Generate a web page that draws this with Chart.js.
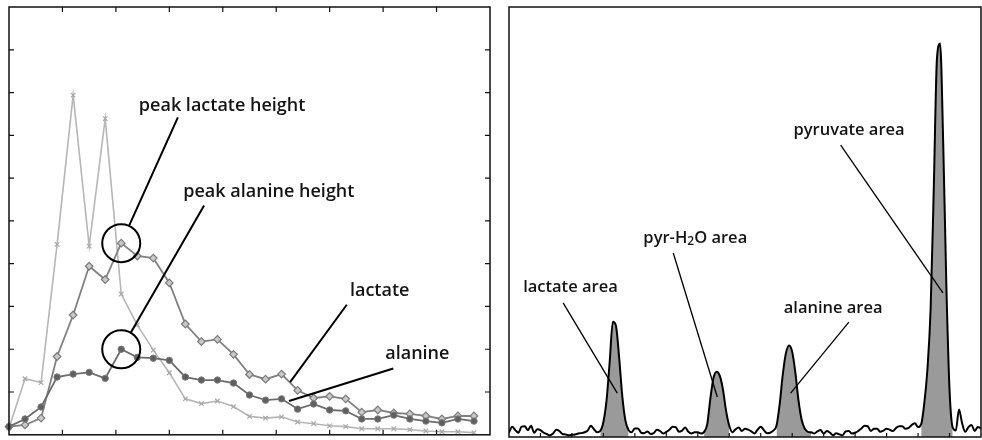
<!DOCTYPE html>
<html lang="en">
<head>
<meta charset="UTF-8">
<title>Pyruvate kinetics and spectrum</title>
<script src="https://cdn.jsdelivr.net/npm/chart.js@4.4.1/dist/chart.umd.min.js"></script>
<style>
  body { margin: 0; background: #fff; }
  canvas { position: absolute; top: 0; }
  #kinetics { left: 0; }
  #spectrum { left: 500px; }
</style>
</head>
<body>
<canvas id="kinetics" width="500" height="440"></canvas>
<canvas id="spectrum" width="482" height="440"></canvas>
<script>
// left panel: signal vs time, one sample every 3 s
const time = [0, 3, 6, 9, 12, 15, 18, 21, 24, 27, 30, 33, 36, 39, 42, 45, 48, 51, 54, 57, 60, 63, 66, 69, 72, 75, 78, 81, 84, 87];
const pyruvate = [0.16, 1.31, 1.22, 4.45, 7.94, 4.41, 7.39, 3.29, 2.57, 1.98, 1.45, 0.84, 0.73, 0.79, 0.66, 0.43, 0.39, 0.42, 0.30, 0.26, 0.21, 0.19, 0.14, 0.14, 0.14, 0.12, 0.09, 0.07, 0.07, 0.05];
const lactate = [0.19, 0.23, 0.39, 1.83, 2.8, 3.94, 3.63, 4.48, 4.18, 4.13, 3.55, 2.59, 2.18, 2.23, 1.88, 1.41, 1.30, 1.42, 1.04, 0.86, 0.90, 0.84, 0.53, 0.58, 0.51, 0.49, 0.44, 0.37, 0.44, 0.44];
const alanine = [0.19, 0.37, 0.65, 1.35, 1.42, 1.46, 1.32, 2.0, 1.81, 1.79, 1.74, 1.35, 1.28, 1.28, 1.21, 0.93, 0.81, 0.84, 0.60, 0.72, 0.58, 0.56, 0.37, 0.37, 0.46, 0.37, 0.32, 0.28, 0.37, 0.32];

// right panel: summed spectrum, 151 spectral points
const spectrum = [
  1.0, 2.4, 1.6, 1.0, 2.4, 2.5, 1.6, 2.6, 1.0, 1.8,
  1.6, 1.0, 0.7, 0.4, 0.8, 1.7, 1.4, 0.7, 0.6, 0.4,
  0.5, 0.6, 0.8, 0.9, 1.1, 1.5, 2.6, 1.8, 1.1, 1.4,
  3.5, 8.5, 17.5, 26.8, 25.8, 18.5, 9.5, 3.8, 1.6, 1.1,
  2.0, 2.0, 1.0, 0.9, 1.3, 0.7, 0.9, 1.7, 1.4, 0.8,
  1.2, 1.7, 2.4, 2.3, 1.2, 1.5, 2.2, 1.2, 0.8, 1.1,
  1.1, 0.8, 1.2, 3.0, 9.0, 13.8, 15.2, 14.2, 11.0, 6.0,
  2.6, 1.1, 1.8, 2.2, 1.4, 1.9, 1.7, 1.3, 0.8, 1.7,
  2.4, 1.6, 0.9, 1.0, 1.5, 2.6, 7.5, 14.5, 19.5, 21.3,
  19.8, 15.0, 8.5, 4.0, 1.9, 1.2, 1.1, 0.8, 1.3, 1.6,
  0.8, 1.4, 1.0, 0.4, 0.9, 0.6, 0.4, 1.3, 1.4, 0.8,
  1.0, 1.4, 2.0, 2.6, 2.5, 1.4, 1.9, 1.9, 1.2, 1.5,
  1.9, 1.7, 1.4, 2.1, 2.5, 2.5, 1.9, 2.1, 2.8, 3.2,
  2.3, 3.0, 8.0, 16.0, 30.0, 58.0, 88.0, 91.5, 68.0, 35.0,
  11.0, 2.2, 1.5, 6.4, 3.2, 1.2, 2.3, 2.8, 1.4, 2.3,
  2.0
];
// integration windows (spectral point indices) shaded grey
const peakWindows = [[29, 38], [62, 70], [85, 96], [131, 141]];

const lacPeak = lactate.indexOf(Math.max(...lactate));
const alaPeak = alanine.indexOf(Math.max(...alanine));

// box + inward tick marks
const framePlugin = {
  id: 'frame',
  afterDatasetsDraw(chart, args, o) {
    const { ctx, chartArea: a } = chart;
    const xs = chart.scales.x, ys = chart.scales.y;
    ctx.save();
    ctx.strokeStyle = '#111';
    ctx.lineWidth = 1.2;
    ctx.beginPath();
    if (o.xStep) {
      for (let v = xs.min + o.xStep; v < xs.max - 1e-6; v += o.xStep) {
        const p = xs.getPixelForValue(v);
        if (o.bottom) { ctx.moveTo(p, a.bottom); ctx.lineTo(p, a.bottom - o.len); }
        if (o.top) { ctx.moveTo(p, a.top); ctx.lineTo(p, a.top + o.len); }
      }
    }
    if (o.yStep) {
      for (let v = ys.min + o.yStep; v < ys.max - 1e-6; v += o.yStep) {
        const p = ys.getPixelForValue(v);
        ctx.moveTo(a.left, p); ctx.lineTo(a.left + o.len, p);
        ctx.moveTo(a.right, p); ctx.lineTo(a.right - o.len, p);
      }
    }
    ctx.stroke();
    ctx.lineWidth = o.width;
    ctx.strokeRect(a.left, a.top, a.width, a.height);
    ctx.restore();
  }
};

// callout lines, circles and labels, placed in data coordinates
const notesPlugin = {
  id: 'notes',
  afterDatasetsDraw(chart, args, o) {
    const { ctx } = chart;
    const xs = chart.scales.x, ys = chart.scales.y;
    const px = p => [xs.getPixelForValue(p[0]), ys.getPixelForValue(p[1])];
    ctx.save();
    ctx.strokeStyle = '#000';
    ctx.lineWidth = o.lineWidth;
    (o.circles || []).forEach(c => {
      const [cx, cy] = px(c.at);
      ctx.beginPath();
      ctx.arc(cx, cy, c.r, 0, Math.PI * 2);
      ctx.stroke();
    });
    (o.lines || []).forEach(l => {
      const [x1, y1] = px(l.from);
      let [x2, y2] = px(l.to);
      if (l.stop) {
        const dx = x1 - x2, dy = y1 - y2, d = Math.hypot(dx, dy);
        x2 += dx / d * l.stop;
        y2 += dy / d * l.stop;
      }
      ctx.beginPath();
      ctx.moveTo(x1, y1);
      ctx.lineTo(x2, y2);
      ctx.stroke();
    });
    ctx.fillStyle = '#141414';
    ctx.textBaseline = 'middle';
    (o.labels || []).forEach(lb => {
      let [x, y] = px(lb.at);
      lb.parts.forEach(part => {
        ctx.font = part.sub ? o.subFont : o.font;
        ctx.fillText(part.t, x, part.sub ? y + 4 : y);
        x += ctx.measureText(part.t).width;
      });
    });
    ctx.restore();
  }
};

const common = {
  responsive: false,
  animation: false,
  events: [],
  plugins: { legend: { display: false }, tooltip: { enabled: false } }
};

new Chart(document.getElementById('kinetics'), {
  type: 'line',
  data: {
    datasets: [
      {
        label: 'alanine',
        data: time.map((t, i) => ({ x: t, y: alanine[i] })),
        borderColor: '#6c6c6c', borderWidth: 1.8,
        pointStyle: 'circle', pointRadius: 3.2,
        pointBackgroundColor: '#606060', pointBorderColor: '#7a7a7a', pointBorderWidth: 1,
        clip: 6
      },
      {
        label: 'lactate',
        data: time.map((t, i) => ({ x: t, y: lactate[i] })),
        borderColor: '#808080', borderWidth: 1.8,
        pointStyle: 'rectRot', pointRadius: 3.8,
        pointBackgroundColor: '#c8c8c8', pointBorderColor: '#7c7c7c', pointBorderWidth: 1.2,
        clip: 6
      },
      {
        label: 'pyruvate',
        data: time.map((t, i) => ({ x: t, y: pyruvate[i] })),
        borderColor: '#b6b6b6', borderWidth: 1.6,
        pointStyle: 'crossRot', pointRadius: 3.2,
        pointBorderColor: '#a8a8a8', pointBorderWidth: 1.2,
        clip: 6
      }
    ]
  },
  options: {
    ...common,
    layout: { padding: { left: 9, top: 7, right: 10, bottom: 2 } },
    scales: {
      x: { type: 'linear', display: false, min: 0, max: 90 },
      y: { display: false, min: 0, max: 10 }
    },
    plugins: {
      ...common.plugins,
      frame: { width: 1.5, len: 5, xStep: 10, yStep: 1, top: true, bottom: true },
      notes: {
        lineWidth: 2,
        font: '600 18px "Open Sans"',
        subFont: '600 12px "Open Sans"',
        circles: [
          { at: [time[lacPeak], lactate[lacPeak]], r: 19 },
          { at: [time[alaPeak], alanine[alaPeak]], r: 19 }
        ],
        lines: [
          { from: [31.6, 7.42], to: [time[lacPeak], lactate[lacPeak]], stop: 19 },
          { from: [36.5, 5.36], to: [time[alaPeak], alanine[alaPeak]], stop: 19 },
          { from: [63.2, 3.04], to: [52.6, 1.23] },
          { from: [71.9, 1.55], to: [52.4, 0.79] }
        ],
        labels: [
          { at: [24.3, 7.68], parts: [{ t: 'peak lactate height' }] },
          { at: [32.6, 5.68], parts: [{ t: 'peak alanine height' }] },
          { at: [63.8, 3.36], parts: [{ t: 'lactate' }] },
          { at: [70.4, 1.88], parts: [{ t: 'alanine' }] }
        ]
      }
    }
  },
  plugins: [framePlugin, notesPlugin]
});

const shaded = spectrum.map((v, i) =>
  ({ x: i, y: peakWindows.some(w => i >= w[0] && i <= w[1]) ? v : null }));

new Chart(document.getElementById('spectrum'), {
  type: 'line',
  data: {
    datasets: [
      {
        label: 'spectrum',
        data: spectrum.map((v, i) => ({ x: i, y: v })),
        borderColor: '#000', borderWidth: 2,
        pointRadius: 0, fill: false,
        cubicInterpolationMode: 'monotone'
      },
      {
        label: 'areas',
        data: shaded,
        borderWidth: 0, backgroundColor: '#9a9a9a',
        pointRadius: 0, fill: 'origin', spanGaps: false,
        cubicInterpolationMode: 'monotone'
      }
    ]
  },
  options: {
    ...common,
    layout: { padding: { left: 9, top: 7, right: 1, bottom: 3 } },
    scales: {
      x: { type: 'linear', display: false, min: 0, max: 150 },
      y: { display: false, min: 0, max: 100 }
    },
    plugins: {
      ...common.plugins,
      frame: { width: 1.5, len: 4, xStep: 10, bottom: true },
      notes: {
        lineWidth: 1.3,
        font: '600 16.5px "Open Sans"',
        subFont: '600 12px "Open Sans"',
        lines: [
          { from: [105.4, 67.9], to: [137.9, 33.5] },
          { from: [52.2, 42.8], to: [66.2, 9.3] },
          { from: [17.2, 31.2], to: [34.4, 10.2] },
          { from: [108, 26.7], to: [89.5, 10.2] }
        ],
        labels: [
          { at: [90.4, 71.4], parts: [{ t: 'pyruvate area' }] },
          { at: [42.7, 46.3], parts: [{ t: 'pyr-H' }, { t: '2', sub: true }, { t: 'O area' }] },
          { at: [4.5, 34.7], parts: [{ t: 'lactate area' }] },
          { at: [87.3, 30.0], parts: [{ t: 'alanine area' }] }
        ]
      }
    }
  },
  plugins: [framePlugin, notesPlugin]
});
</script>
</body>
</html>
